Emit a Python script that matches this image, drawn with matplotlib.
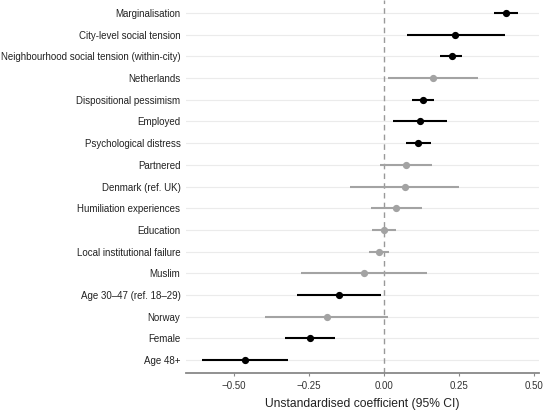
import matplotlib
matplotlib.use('Agg')
import matplotlib.pyplot as plt
import numpy as np

# Coefficients (top to bottom)
labels = ['Marginalisation', 'City-level social tension',
          'Neighbourhood social tension (within-city)', 'Netherlands',
          'Dispositional pessimism', 'Employed', 'Psychological distress',
          'Partnered', 'Denmark (ref. UK)', 'Humiliation experiences',
          'Education', 'Local institutional failure', 'Muslim',
          'Age 30\u201347 (ref. 18\u201329)', 'Norway', 'Female', 'Age 48+']
coef = [0.405, 0.237, 0.224, 0.163, 0.128, 0.120, 0.112, 0.072, 0.069,
        0.040, 0.000, -0.019, -0.067, -0.151, -0.192, -0.248, -0.465]
lower = [0.364, 0.076, 0.187, 0.014, 0.093, 0.029, 0.071, -0.015, -0.113,
         -0.045, -0.041, -0.052, -0.278, -0.290, -0.398, -0.329, -0.607]
upper = [0.445, 0.402, 0.260, 0.312, 0.164, 0.210, 0.156, 0.159, 0.250,
         0.124, 0.040, 0.016, 0.143, -0.012, 0.014, -0.163, -0.322]
significant = [True, True, True, False, True, True, True, False, False,
               False, False, False, False, True, False, True, True]

plt.rcParams['font.family'] = ['Liberation Sans', 'DejaVu Sans']

fig = plt.figure(figsize=(5.5, 4.13), dpi=100)
ax = fig.add_axes([186 / 550, 1 - 373 / 413, (539 - 186) / 550, 373 / 413])

n = len(labels)
ypos = np.arange(n, 0, -1)

for y in ypos:
    ax.axhline(y, color='#ebebeb', lw=0.8, zorder=0)
ax.axvline(0, color='#999999', lw=1.0, ls=(0, (4, 3)), zorder=1)

for i in range(n):
    c = 'black' if significant[i] else '#a3a3a3'
    ax.plot([lower[i], upper[i]], [ypos[i], ypos[i]], color=c, lw=1.5,
            solid_capstyle='butt', zorder=2)
    ax.plot(coef[i], ypos[i], 'o', color=c, ms=4.2, zorder=3)

ax.set_xlim(-0.66, 0.515)
ax.set_ylim(0.4, n + 0.6)
ax.set_yticks(ypos)
ax.set_yticklabels(labels)
ax.set_xticks([-0.5, -0.25, 0, 0.25, 0.5])
ax.set_xticklabels(['\u22120.50', '\u22120.25', '0.00', '0.25', '0.50'])
ax.set_xlabel('Unstandardised coefficient (95% CI)', fontsize=8.7,
              color='#222222', labelpad=5)

for s in ['top', 'right', 'left']:
    ax.spines[s].set_visible(False)
ax.spines['bottom'].set_color('#888888')
ax.spines['bottom'].set_linewidth(1.3)
ax.tick_params(axis='y', length=0, labelsize=7, labelcolor='#222222', pad=4)
ax.tick_params(axis='x', length=2.5, color='#888888', labelsize=7,
               labelcolor='#333333', pad=3)

fig.savefig('out.png', dpi=100)
